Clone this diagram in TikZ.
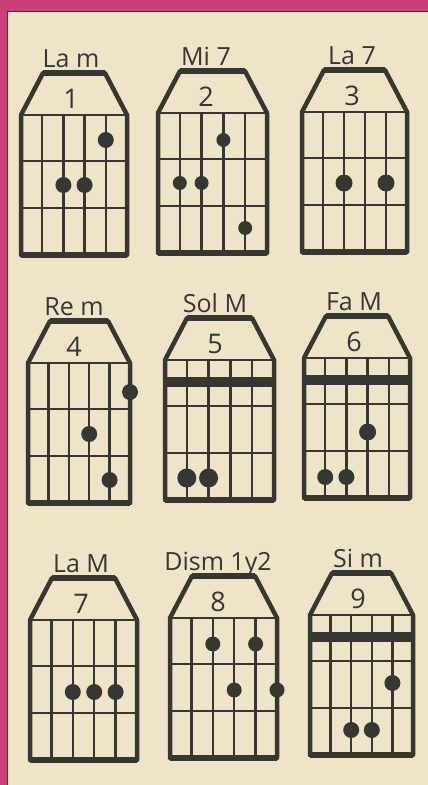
\documentclass[tikz,border=0pt]{standalone}
\usepackage{fontspec}
\setmainfont{Open Sans}
\definecolor{ink}{HTML}{363632}
\definecolor{cream}{HTML}{EEE5C9}
\definecolor{pinkband}{HTML}{C94077}
\definecolor{edgeline}{HTML}{5A3038}
\tikzset{
  frame/.style={draw=ink, line width=4.5pt, line join=round},
  thickedge/.style={draw=ink, line width=6pt},
  gridline/.style={draw=ink, line width=2.4pt},
  barrebar/.style={fill=ink},
  lab/.style={font=\fontsize{25}{30}\selectfont, anchor=base, inner sep=0pt, text=ink},
  num/.style={font=\fontsize{27}{30}\selectfont, inner sep=0pt, text=ink},
}
% #1 id, #2 left, #3 right, #4 shoulder y, #5 label, #6 label x, #7 number, #8 dots (string/y/r)
\newcommand{\chorddiag}[8]{%
  \begin{scope}[shift={(#2,#4)}]
    \pgfmathsetmacro\W{#3-#2}
    \draw[frame] (22,-42) -- (\W-22,-42) -- (\W,0) -- (\W,140) -- (0,140) -- (0,0) -- cycle;
    \draw[thickedge] (22,-42) -- (\W-22,-42);
    \draw[thickedge] (0,140) -- (\W,140);
    \foreach \i in {1,...,4} \draw[gridline] (\i*\W/5,0) -- (\i*\W/5,140);
    \foreach \f in {0,46,93} \draw[gridline] (0,\f) -- (\W,\f);
    \foreach \i/\y/\r in {#8} \fill[ink] (\i*\W/5,\y) circle[radius=\r pt];
  \end{scope}
  \node[lab] (lab#1) at (#6,#4-48) {#5};
  \node[num] (num#1) at (#6,#4-16) {#7};
}
\newcommand{\barrebox}[3]{%
  \fill[barrebar] (#1,#3+17) rectangle (#2,#3+27);
}
\begin{document}
\begin{tikzpicture}[x=1pt,y=-1pt]
  \useasboundingbox (0,0) rectangle (428,785);
  \fill[cream] (0,0) rectangle (428,785);
  \fill[pinkband] (0,0) rectangle (428,11);
  \fill[pinkband] (0,0) rectangle (7,785);
  \draw[edgeline, line width=1.2pt] (7.6,785) -- (7.6,11.6) -- (428,11.6);

  \chorddiag{1}{21}{127}{115}{La m}{71}{1}{4/25/8,2/70/8,3/70/8}
  \chorddiag{2}{158}{267}{113}{Mi 7}{206}{2}{3/27/7,1/70/7,2/70/7,4/115/7}
  \chorddiag{3}{302}{407}{112}{La 7}{352}{3}{2/71/8.5,4/71/8.5}

  \chorddiag{4}{28}{130}{363}{Re m}{74}{4}{5/29/8,3/71/8,4/117/8}
  \chorddiag{5}{165}{274}{360}{Sol M}{215}{5}{1/118/9.5,2/118/9.5}
  \barrebox{165}{274}{360}
  \chorddiag{6}{304}{410}{358}{Fa M}{354}{6}{3/74/8.5,1/119/8,2/119/8}
  \barrebox{304}{410}{358}

  \chorddiag{7}{30}{137}{620}{La M}{81}{7}{2/72/8,3/72/8,4/72/8}
  \chorddiag{8}{170}{277}{618}{Dism 1y2}{218}{8}{2/26/7.5,4/26/7.5,3/72/7.5,5/72/7.5}
  \chorddiag{9}{310}{413}{615}{Si m}{358}{9}{4/68/8,2/115/8,3/115/8}
  \barrebox{310}{413}{615}
\end{tikzpicture}
\end{document}
